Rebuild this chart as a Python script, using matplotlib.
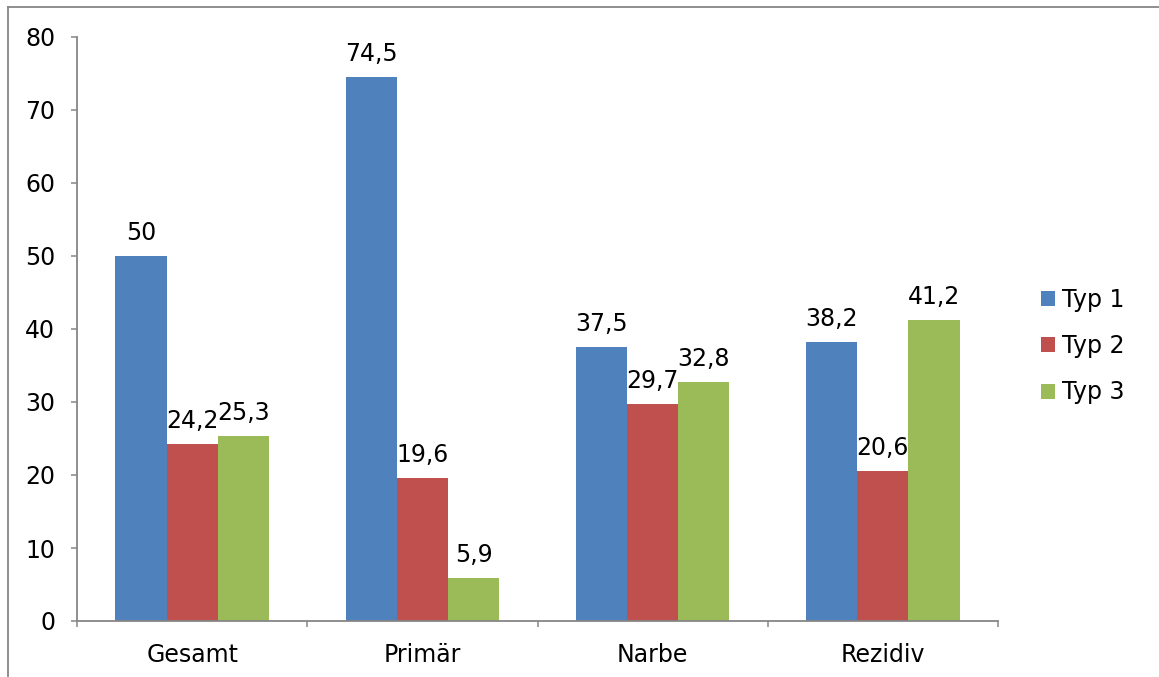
import numpy as np
import matplotlib.pyplot as plt
from matplotlib.lines import Line2D
from matplotlib.ticker import FixedLocator

categories = ['Gesamt', 'Primär', 'Narbe', 'Rezidiv']
series_names = ['Typ 1', 'Typ 2', 'Typ 3']
typ1 = [50, 74.5, 37.5, 38.2]
typ2 = [24.2, 19.6, 29.7, 20.6]
typ3 = [25.3, 5.9, 32.8, 41.2]

colors = ['#4F81BD', '#C0504D', '#9BBB59']
axis_gray = '#868686'
W, H = 1159, 677

fig = plt.figure(figsize=(W / 100, H / 100), dpi=100)
ax = fig.add_axes([77 / W, 1 - 621 / H, (998 - 77) / W, (621 - 37) / H])

x = np.arange(len(categories))
width = 1 / 4.5  # gap width 150%
for i, (vals, name) in enumerate(zip([typ1, typ2, typ3], series_names)):
    pos = x + (i - 1) * width
    bars = ax.bar(pos, vals, width, color=colors[i], label=name, linewidth=0)
    for b, v in zip(bars, vals):
        txt = f'{v:g}'.replace('.', ',')
        ax.annotate(txt, (b.get_x() + b.get_width() / 2, v), xytext=(0, 11.5),
                    textcoords='offset points', ha='center', va='baseline',
                    fontsize=17)

ax.set_xlim(-0.5, len(categories) - 0.5)
ax.set_ylim(0, 80)
ax.set_yticks(range(0, 81, 10))
ax.set_xticks(x)
ax.set_xticklabels(categories, fontsize=17)
ax.xaxis.set_minor_locator(FixedLocator(np.arange(-0.5, len(categories), 1.0)))
ax.tick_params(axis='x', which='major', length=0, pad=16)
ax.tick_params(axis='x', which='minor', length=4.3, width=1.1, color=axis_gray,
               direction='out')
ax.tick_params(axis='y', length=4.3, width=1.1, color=axis_gray, labelsize=17,
               pad=11.5)

for side in ['top', 'right']:
    ax.spines[side].set_visible(False)
for side in ['left', 'bottom']:
    ax.spines[side].set_color(axis_gray)
    ax.spines[side].set_linewidth(1.3)

fig.legend(*ax.get_legend_handles_labels(), loc='center left',
           bbox_to_anchor=(1041 / W, 1 - 346 / H), frameon=False,
           fontsize=17, handlelength=0.6, handleheight=0.6, handletextpad=0.3,
           labelspacing=0.95, borderpad=0, borderaxespad=0)

# chart frame (only left and top edges fall inside the image)
fig.add_artist(Line2D([8 / W, 8 / W], [0, 1 - 7 / H], color=axis_gray,
                      linewidth=1.3, transform=fig.transFigure))
fig.add_artist(Line2D([8 / W, 1], [1 - 7 / H, 1 - 7 / H], color=axis_gray,
                      linewidth=1.3, transform=fig.transFigure))

fig.savefig('out.png', dpi=100)
